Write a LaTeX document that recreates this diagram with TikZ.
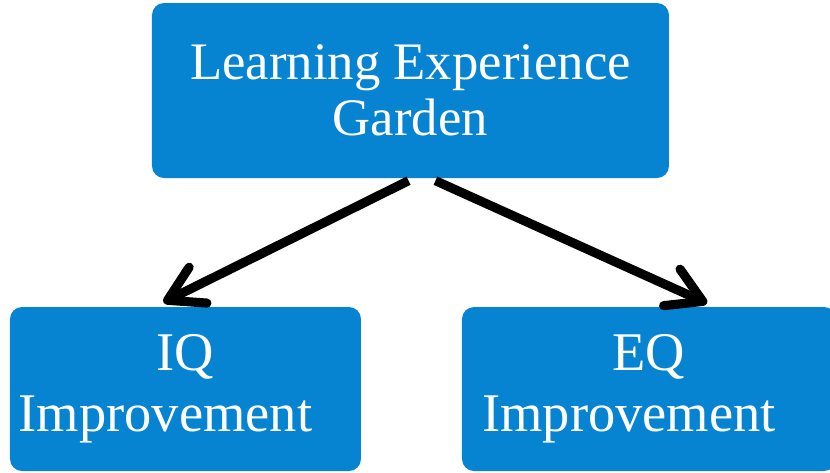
\documentclass[tikz,border=0pt]{standalone}
\usepackage{fontspec}
\setmainfont{Liberation Serif}
\usepackage{xcolor}
\usetikzlibrary{arrows.meta}
\definecolor{gardenblue}{HTML}{0784D1}
\tikzset{box/.style = {fill=gardenblue, rounded corners=0.12cm, text=white, align=center,
                       inner sep=0, minimum height=1.64cm,
                       font=\fontsize{15.5}{17.5}\selectfont}}
\tikzset{arr/.style = {line width=2.6pt,
                       -{Straight Barb[length=0.34cm, width=0.40cm, line cap=round, line join=round]}}}

\begin{document}
\begin{tikzpicture}
      \clip (0, 0) rectangle (8.30, 4.72);

      \node [box, minimum width=5.17cm, minimum height=1.75cm,
             font=\fontsize{15}{16}\selectfont] (garden) at (4.105, 3.815)
            {Learning Experience\\Garden};
      \node [box, minimum width=3.51cm] (iq) at (1.855, 0.83)
            {IQ\\Improvement\hspace{0.4cm}\null};
      \node [box, minimum width=3.74cm] (eq) at (6.49, 0.83)
            {EQ\\Improvement\hspace{0.4cm}\null};

      \coordinate (iqtip) at ([xshift=-0.22cm, yshift=0.04cm]iq.north);
      \coordinate (eqtip) at ([xshift=0.58cm, yshift=0.03cm]eq.north);

      \draw [arr] ([xshift=-0.02cm, yshift=-0.02cm]garden.south) -- (iqtip);
      \draw [arr] ([xshift=0.25cm, yshift=-0.02cm]garden.south) -- (eqtip);
    \end{tikzpicture}
\end{document}
